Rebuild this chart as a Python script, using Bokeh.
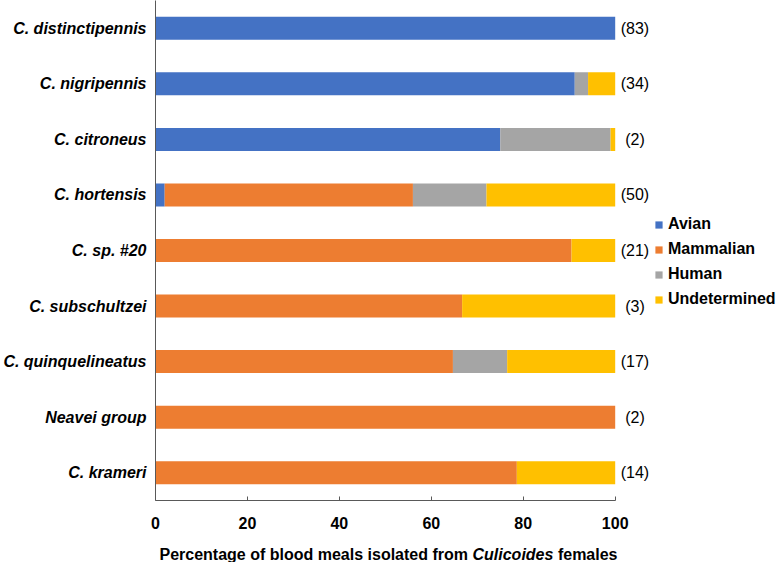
from bokeh.plotting import figure
from bokeh.layouts import column
from bokeh.models import ColumnDataSource, FactorRange, Range1d, FixedTicker
from bokeh.core.properties import value
from bokeh.embed import file_html
from bokeh.resources import INLINE

species = ["C. distinctipennis", "C. nigripennis", "C. citroneus", "C. hortensis",
           "C. sp. #20", "C. subschultzei", "C. quinquelineatus", "Neavei group", "C. krameri"]
avian = [100, 91.2, 75, 2, 0, 0, 0, 0, 0]
mammalian = [0, 0, 0, 54, 90.5, 66.7, 64.7, 100, 78.6]
human = [0, 2.9, 24, 16, 0, 0, 11.8, 0, 0]
undetermined = [0, 5.9, 1, 28, 9.5, 33.3, 23.5, 0, 21.4]
counts = ["(83)", "(34)", "(2)", "(50)", "(21)", "(3)", "(17)", "(2)", "(14)"]
series = ["Avian", "Mammalian", "Human", "Undetermined"]
colors = ["#4472C4", "#ED7D31", "#A5A5A5", "#FFC000"]
x_ticks = [0, 20, 40, 60, 80, 100]
title_parts = ["Percentage of blood meals isolated from", "Culicoides", "females"]
title_styles = ["bold", "bold italic", "bold"]

FONT = "Liberation Sans"
W, H = 778, 562
LEFT = 155
MAIN_H = 536
TITLE_H = H - MAIN_H
PX_PER_UNIT = 4.597
XMAX = (W - LEFT) / PX_PER_UNIT
px_to_x = lambda px: (px - LEFT) / PX_PER_UNIT

src = ColumnDataSource(dict(species=species, Avian=avian, Mammalian=mammalian,
                            Human=human, Undetermined=undetermined,
                            label=counts, lx=[104.3] * len(species)))

x_range = Range1d(0, XMAX)
p = figure(width=W, height=MAIN_H, output_backend="svg", toolbar_location=None,
           y_range=FactorRange(factors=species[::-1], range_padding=0),
           x_range=x_range,
           min_border_left=LEFT, min_border_right=0, min_border_top=0,
           min_border_bottom=MAIN_H - 500, outline_line_color=None,
           background_fill_color="white", border_fill_color="white")

p.hbar_stack(series, y="species", height=0.414, color=colors, line_color=None,
             source=src, legend_label=series)

p.text(x="lx", y="species", text="label", source=src, text_align="center",
       text_baseline="middle", text_font=value(FONT), text_font_size="16px",
       text_color="black")

p.xgrid.visible = False
p.ygrid.visible = False

xa = p.xaxis[0]
xa.ticker = FixedTicker(ticks=x_ticks)
xa.bounds = (0, 100)
xa.axis_line_color = "#595959"
xa.major_tick_line_color = "#595959"
xa.major_tick_in = 4
xa.major_tick_out = 0
xa.minor_tick_line_color = None
xa.major_label_text_font = FONT
xa.major_label_text_font_size = "16px"
xa.major_label_text_font_style = "bold"
xa.major_label_text_color = "black"
xa.major_label_standoff = 16

ya = p.yaxis[0]
ya.axis_line_color = "#595959"
ya.major_tick_line_color = None
ya.major_tick_in = 0
ya.major_tick_out = 0
ya.minor_tick_line_color = None
ya.major_label_text_font = FONT
ya.major_label_text_font_size = "16px"
ya.major_label_text_font_style = "bold italic"
ya.major_label_text_color = "black"
ya.major_label_standoff = 9

lg = p.legend[0]
lg.location = (499, 191)
lg.padding = 0
lg.margin = 0
lg.spacing = 5
lg.label_height = 20
lg.glyph_width = 9
lg.glyph_height = 9
lg.label_standoff = 5
lg.border_line_color = None
lg.background_fill_alpha = 0
lg.label_text_font = FONT
lg.label_text_font_size = "16px"
lg.label_text_font_style = "bold"
lg.label_text_color = "black"

# x-axis title (with italic genus name) in a thin strip below the chart
t = figure(width=W, height=TITLE_H, output_backend="svg", toolbar_location=None,
           x_range=x_range, y_range=Range1d(0, TITLE_H),
           min_border_left=LEFT, min_border_right=0, min_border_top=0,
           min_border_bottom=0, outline_line_color=None,
           background_fill_color="white", border_fill_color="white")
t.axis.visible = False
t.grid.visible = False
starts_px = [159, 472, 557.4]
baseline_from_top = 554 - MAIN_H
for txt, style, px in zip(title_parts, title_styles, starts_px):
    t.text(x=[px_to_x(px)], y=[TITLE_H - baseline_from_top], text=[txt],
           text_font=value(FONT), text_font_size="16px", text_font_style=style,
           text_color="black", text_align="left", text_baseline="alphabetic")

layout = column(p, t, spacing=0)
open("out.html", "w").write(file_html(layout, INLINE))
